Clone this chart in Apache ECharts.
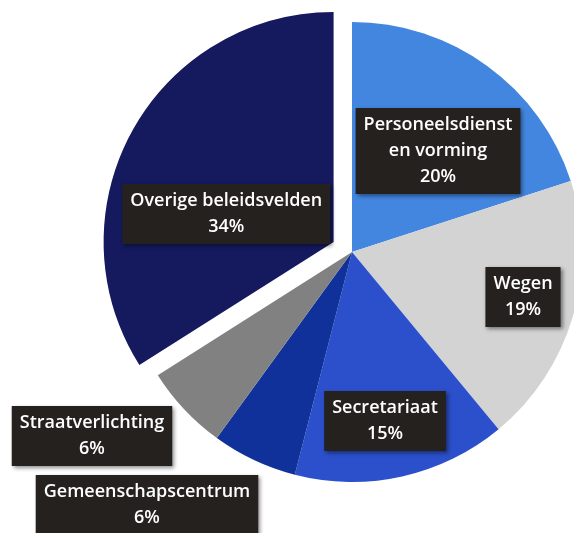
<!DOCTYPE html>
<html>
<head>
<meta charset="utf-8">
<script src="https://cdn.jsdelivr.net/npm/echarts@6/dist/echarts.min.js"></script>
<style>
    html, body { margin: 0; padding: 0; background: #fff; }
    #main { width: 574px; height: 533px; }
</style>
</head>
<body>
<div id="main"></div>
<script>
// 数据
var categories = ['Personeelsdienst\nen vorming', 'Wegen', 'Secretariaat', 'Gemeenschapscentrum', 'Straatverlichting', 'Overige beleidsvelden'];
var values = [20, 19, 15, 6, 6, 34];
var colors = ['#4386e0', '#d3d3d3', '#2c50cb', '#10319a', '#818181', '#15195e'];
// 标签中心位置 (选中的扇区用 dx/dy)
var labelPos = [[438, 151], [523, 297], [385, 421], [147, 505], [92, 436], null];
var selectedLabelShift = [-4, 29];

function drawPie() {
    var dom = document.getElementById("main");
    var myChart = echarts.init(dom);
    var data = [];
    categories.forEach(function (v, i) {
        data.push({
            name: v,
            value: values[i],
            selected: i === 5,
            itemStyle: { color: colors[i] }
        });
    });
    var option = {
        animation: false,
        series: [{
            type: 'pie',
            center: [352, 252],
            radius: 230,
            startAngle: 90,
            clockwise: true,
            selectedMode: 'single',
            selectedOffset: 21,
            label: {
                show: true,
                position: 'inside',
                formatter: '{b}\n{d}%',
                color: '#fff',
                fontFamily: 'Open Sans',
                fontWeight: 600,
                fontSize: 18,
                lineHeight: 26,
                align: 'center',
                backgroundColor: '#25211e',
                padding: [4, 8, 4, 8],
                shadowColor: 'rgba(0,0,0,0.45)',
                shadowBlur: 4,
                shadowOffsetX: 2,
                shadowOffsetY: 2
            },
            labelLine: { show: false },
            emphasis: { scale: false },
            labelLayout: function (params) {
                var p = labelPos[params.dataIndex];
                if (!p) {
                    return { dx: selectedLabelShift[0], dy: selectedLabelShift[1] };
                }
                return { x: p[0], y: p[1], align: 'center', verticalAlign: 'middle' };
            },
            data: data
        }]
    };
    myChart.setOption(option, true);
}

drawPie();
</script>
</body>
</html>
